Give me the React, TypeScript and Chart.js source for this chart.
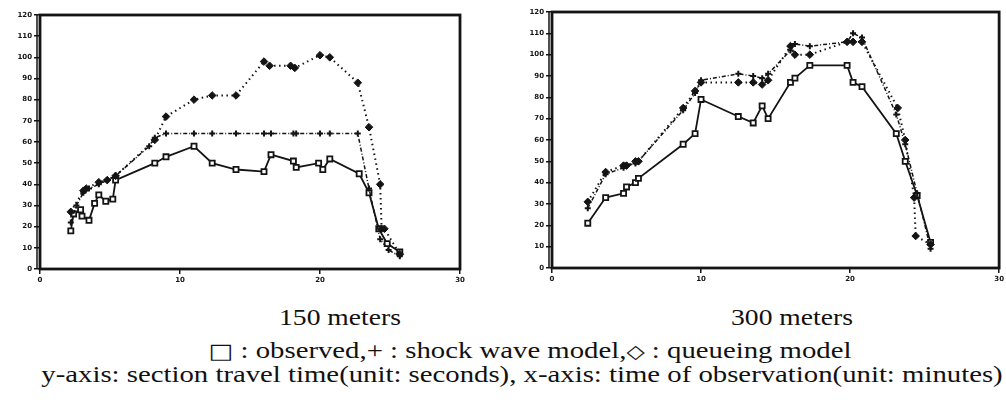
import React, { useEffect, useRef } from "react";
import { Chart, registerables } from "chart.js";

Chart.register(...registerables);

// ---------- data (time in minutes, section travel time in seconds) ----------
const xTicks = [0, 10, 20, 30];
const yTicks = [0, 10, 20, 30, 40, 50, 60, 70, 80, 90, 100, 110, 120];

// 150 meters
const obs150T = [2.2, 2.4, 2.9, 3.0, 3.5, 3.9, 4.2, 4.7, 5.2, 5.4, 8.2, 9.0, 11.0, 12.3, 14.0, 16.0, 16.5, 18.1, 18.3, 19.9, 20.2, 20.7, 22.8, 23.5, 24.2, 24.8, 25.7];
const obs150V = [18, 26, 28, 25, 23, 31, 35, 32, 33, 42, 50, 53, 58, 50, 47, 46, 54, 51, 48, 50, 47, 52, 45, 36, 19, 12, 8];
const shock150T = [2.2, 2.6, 3.1, 3.5, 4.2, 4.8, 5.4, 7.8, 8.2, 9.0, 11.0, 12.3, 14.0, 16.0, 16.5, 18.1, 18.3, 20.0, 20.7, 22.7, 23.5, 24.3, 24.9, 25.7];
const shock150V = [22, 30, 36, 38, 40, 42, 44, 58, 62, 64, 64, 64, 64, 64, 64, 64, 64, 64, 64, 64, 38, 14, 9, 6];
const queue150T = [2.2, 3.1, 3.3, 4.2, 4.8, 5.4, 8.2, 9.0, 11.0, 12.3, 14.0, 16.0, 16.4, 17.9, 18.2, 20.0, 20.7, 22.7, 23.5, 24.3, 24.4, 24.6, 25.7];
const queue150V = [27, 37, 38, 41, 42, 44, 61, 72, 80, 82, 82, 98, 96, 96, 95, 101, 100, 88, 67, 40, 19, 19, 7];

// 300 meters
const obs300T = [2.4, 3.6, 4.8, 5.0, 5.6, 5.8, 8.8, 9.6, 10.0, 12.5, 13.5, 14.1, 14.5, 16.0, 16.3, 17.3, 19.8, 20.2, 20.8, 23.1, 23.7, 24.5, 25.4];
const obs300V = [21, 33, 35, 38, 40, 42, 58, 63, 79, 71, 68, 76, 70, 87, 89, 95, 95, 87, 85, 63, 50, 34, 12];
const shock300T = [2.4, 3.6, 4.8, 5.0, 5.6, 5.8, 8.8, 9.6, 10.0, 12.5, 13.5, 14.1, 14.5, 16.0, 16.3, 17.3, 19.8, 20.2, 20.8, 23.1, 23.7, 24.5, 25.4];
const shock300V = [28, 44, 47, 48, 49, 50, 74, 82, 88, 91, 90, 89, 91, 102, 105, 104, 106, 110, 108, 72, 58, 35, 9];
const queue300T = [2.4, 3.6, 4.8, 5.0, 5.6, 5.8, 8.8, 9.6, 10.0, 12.5, 13.5, 14.1, 14.5, 16.0, 16.3, 17.3, 19.8, 20.2, 20.8, 23.2, 23.7, 24.3, 24.4, 25.4];
const queue300V = [31, 45, 48, 48, 50, 50, 75, 83, 87, 87, 87, 86, 88, 104, 100, 100, 106, 106, 106, 75, 60, 33, 15, 11];

const captions = ["150 meters", "300 meters"];
const legendParts = ["□", " : observed,+ : shock wave model,", "◇", " : queueing model"];
const axisText = "y-axis: section travel time(unit: seconds),  x-axis: time of observation(unit: minutes)";

const INK = "#141414";

function pairs(t: number[], v: number[]) {
  return t.map((x, i) => ({ x, y: v[i] }));
}

const framePlugin = {
  id: "frame",
  afterDraw(chart: any) {
    const { ctx, chartArea: a } = chart;
    ctx.save();
    ctx.strokeStyle = INK;
    ctx.lineWidth = 2.8;
    ctx.strokeRect(a.left, a.top, a.right - a.left, a.bottom - a.top);
    ctx.lineWidth = 1.5;
    ctx.beginPath();
    ctx.moveTo(a.left - 3, a.top);
    ctx.lineTo(a.left - 3, a.bottom);
    ctx.stroke();
    ctx.restore();
  },
};

type PanelProps = {
  left: number;
  width: number;
  height: number;
  yAxisWidth: number;
  pad: { left: number; right: number; top: number; bottom: number };
  obs: { x: number; y: number }[];
  shock: { x: number; y: number }[];
  queue: { x: number; y: number }[];
};

function Panel(p: PanelProps) {
  const ref = useRef<HTMLCanvasElement>(null);
  useEffect(() => {
    if (!ref.current) return;
    const tickFont = { size: 7, weight: "bold" as const, family: "DejaVu Sans" };
    const chart = new Chart(ref.current, {
      type: "line",
      data: {
        datasets: [
          {
            label: "queueing model",
            data: p.queue,
            borderColor: INK,
            borderWidth: 2,
            borderDash: [1.5, 3.5],
            pointStyle: "rectRot",
            pointRadius: 3.8,
            pointBackgroundColor: INK,
            pointBorderColor: INK,
            pointBorderWidth: 1,
            tension: 0,
          },
          {
            label: "shock wave model",
            data: p.shock,
            borderColor: INK,
            borderWidth: 1.5,
            borderDash: [4, 2, 1, 2],
            pointStyle: "cross",
            pointRadius: 3,
            pointBorderColor: INK,
            pointBorderWidth: 2,
            tension: 0,
          },
          {
            label: "observed",
            data: p.obs,
            borderColor: INK,
            borderWidth: 1.8,
            pointStyle: "rect",
            pointRadius: 3.6,
            pointBackgroundColor: "#ffffff",
            pointBorderColor: INK,
            pointBorderWidth: 1.8,
            tension: 0,
          },
        ],
      },
      options: {
        animation: false,
        responsive: false,
        maintainAspectRatio: false,
        layout: { padding: p.pad },
        plugins: { legend: { display: false }, tooltip: { enabled: false } },
        scales: {
          x: {
            type: "linear",
            min: 0,
            max: 30,
            afterBuildTicks: (s: any) => {
              s.ticks = xTicks.map((v) => ({ value: v }));
            },
            ticks: { font: tickFont, color: INK, padding: 2 },
            grid: { drawOnChartArea: false, drawTicks: true, tickLength: 5, color: INK, lineWidth: 1.5 },
            border: { display: false },
            afterFit: (s: any) => {
              s.height = 26;
            },
          },
          y: {
            type: "linear",
            min: 0,
            max: 120,
            afterBuildTicks: (s: any) => {
              s.ticks = yTicks.map((v) => ({ value: v }));
            },
            ticks: { font: tickFont, color: INK, padding: 2 },
            grid: { drawOnChartArea: false, drawTicks: true, tickLength: 6, color: INK, lineWidth: 1.5 },
            border: { display: false },
            afterFit: (s: any) => {
              s.width = p.yAxisWidth;
            },
          },
        },
      },
      plugins: [framePlugin],
    });
    return () => chart.destroy();
  }, []);
  return (
    <canvas
      ref={ref}
      width={p.width}
      height={p.height}
      style={{ position: "absolute", left: p.left, top: 0, width: p.width, height: p.height }}
    />
  );
}

const textBase: React.CSSProperties = {
  position: "absolute",
  fontFamily: "'Liberation Serif', 'Times New Roman', serif",
  fontSize: 23,
  lineHeight: "23px",
  whiteSpace: "nowrap",
  color: "#111",
};

export default function App() {
  return (
    <div style={{ position: "absolute", left: 0, top: 0, width: 1006, height: 402, background: "#fff", overflow: "hidden" }}>
      <Panel
        left={0}
        width={480}
        height={300}
        yAxisWidth={40}
        pad={{ left: 0, right: 20, top: 15, bottom: 5 }}
        obs={pairs(obs150T, obs150V)}
        shock={pairs(shock150T, shock150V)}
        queue={pairs(queue150T, queue150V)}
      />
      <Panel
        left={500}
        width={506}
        height={300}
        yAxisWidth={52}
        pad={{ left: 0, right: 4, top: 12, bottom: 6 }}
        obs={pairs(obs300T, obs300V)}
        shock={pairs(shock300T, shock300V)}
        queue={pairs(queue300T, queue300V)}
      />
      <div style={{ ...textBase, left: 340, top: 306, transform: "translateX(-50%) scaleX(1.2)" }}>{captions[0]}</div>
      <div style={{ ...textBase, left: 792, top: 306, transform: "translateX(-50%) scaleX(1.2)" }}>{captions[1]}</div>
      <div style={{ ...textBase, left: 530, top: 339, transform: "translateX(-50%) scaleX(1.25)" }}>
        <span style={{ fontFamily: "'DejaVu Sans', sans-serif", fontSize: 21 }}>{legendParts[0]}</span>
        {legendParts[1]}
        <span style={{ fontFamily: "'DejaVu Sans', sans-serif", fontSize: 19 }}>{legendParts[2]}</span>
        {legendParts[3]}
      </div>
      <div style={{ ...textBase, left: 522, top: 363, transform: "translateX(-50%) scaleX(1.25)" }}>{axisText}</div>
    </div>
  );
}
